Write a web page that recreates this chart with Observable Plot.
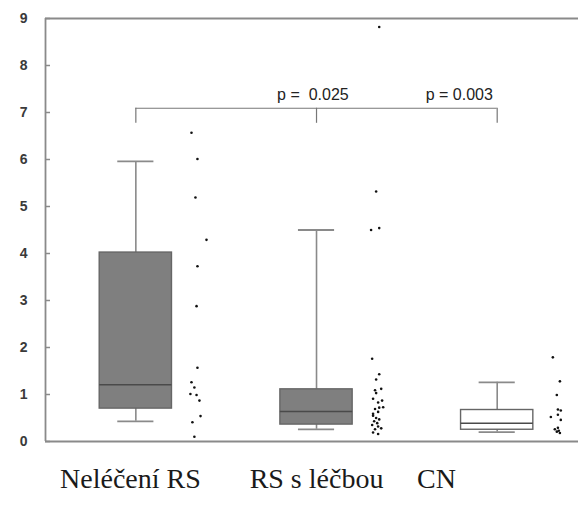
<!DOCTYPE html>
<html><head><meta charset="utf-8">
<script src="https://cdn.jsdelivr.net/npm/d3@7"></script>
<script src="https://cdn.jsdelivr.net/npm/@observablehq/plot@0.6"></script>
<style>body{margin:0;background:#fff}</style>
</head><body><div id="chart"></div>
<script>
// ---- data ----
const groups = ["Neléčení RS", "RS s léčbou", "CN"];
const whiskerLow  = [0.43, 0.26, 0.20];
const quartile1   = [0.70, 0.36, 0.25];
const medians     = [1.21, 0.64, 0.39];
const quartile3   = [4.02, 1.11, 0.67];
const whiskerHigh = [5.96, 4.50, 1.26];

const values1 = [6.57, 6.01, 5.19, 4.29, 3.73, 2.88, 1.57, 1.26, 1.15, 1.01, 0.99, 0.87, 0.54, 0.41, 0.10];
const jitter1 = [-0.022, 0.011, 0, 0.061, 0.011, 0.006, 0.011, -0.022, -0.006, -0.028, 0.006, 0.022, 0.028, -0.017, -0.006];
const values2 = [8.82, 5.32, 4.50, 4.54, 1.76, 1.43, 1.32, 1.12, 1.09, 1.03, 0.91, 0.87, 0.83, 0.73, 0.72, 0.69, 0.63, 0.59, 0.55, 0.50, 0.47, 0.43, 0.39, 0.35, 0.32, 0.28, 0.26, 0.19, 0.16];
const jitter2 = [0.017, 0, -0.028, 0.017, -0.022, 0.017, 0, 0.028, -0.006, 0, -0.017, 0.033, 0.011, 0.039, 0.017, -0.006, 0.011, -0.017, -0.017, 0, 0.017, -0.011, 0.006, -0.022, 0.011, 0.028, -0.006, -0.017, 0.011];
const values3 = [1.79, 1.28, 0.99, 0.68, 0.66, 0.57, 0.52, 0.46, 0.29, 0.26, 0.23, 0.18, 0.21];
const jitter3 = [-0.022, 0.017, 0, 0.006, 0.022, 0.006, -0.033, 0.022, 0.006, -0.011, 0.011, 0.017, 0];

const pLabels = ["p =  0.025", "p = 0.003"];
const bracketLevel = 7.09;
const bracketDrop = 6.77;
const yTicks = [0, 1, 2, 3, 4, 5, 6, 7, 8, 9];

// ---- layout / style ----
const xDomain = [0.5, 3.45];
const yDomain = [0, 9];
const boxHalf = 0.2, capHalf = 0.1, dotOffset = 0.33;
const boxFills = ["#7f7f7f", "#7f7f7f", "#ffffff"];
const labelX = [0.97, 2.0, 2.664];
const pX = [1.98, 2.79];
const lineGray = "#8a8a8a";

const boxes = groups.map((g, i) => ({
  pos: i + 1, lo: whiskerLow[i], q1: quartile1[i], med: medians[i], q3: quartile3[i], hi: whiskerHigh[i], fill: boxFills[i]
}));
const points = [
  ...values1.map((v, j) => ({pos: 1, value: v, jit: jitter1[j]})),
  ...values2.map((v, j) => ({pos: 2, value: v, jit: jitter2[j]})),
  ...values3.map((v, j) => ({pos: 3, value: v, jit: jitter3[j]}))
];
const bracketX = boxes.map(d => d.pos);

const plot = Plot.plot({
  width: 578, height: 505,
  marginLeft: 45, marginRight: 0, marginTop: 18, marginBottom: 64,
  style: {fontFamily: "Liberation Sans, Arial, sans-serif", background: "#fff"},
  x: {domain: xDomain, axis: null},
  y: {domain: yDomain, axis: null},
  marks: [
    // frame
    Plot.ruleY([yDomain[0], yDomain[1]], {stroke: lineGray, strokeWidth: 1.8}),
    Plot.ruleX([xDomain[0]], {stroke: lineGray, strokeWidth: 1.8}),
    // y ticks (inward) and labels
    Plot.axisY({ticks: yTicks, tickSize: 5, dx: 5, tickFormat: () => "", stroke: lineGray, strokeWidth: 1.5}),
    Plot.axisY({ticks: yTicks, tickSize: 0, tickPadding: 18, fontSize: 14, fontWeight: "bold", color: "#3a3a3a"}),
    // whiskers
    Plot.ruleX(boxes, {x: "pos", y1: "q3", y2: "hi", stroke: lineGray, strokeWidth: 1.6}),
    Plot.ruleX(boxes, {x: "pos", y1: "lo", y2: "q1", stroke: lineGray, strokeWidth: 1.6}),
    Plot.ruleY(boxes, {y: "hi", x1: d => d.pos - capHalf, x2: d => d.pos + capHalf, stroke: lineGray, strokeWidth: 1.8}),
    Plot.ruleY(boxes, {y: "lo", x1: d => d.pos - capHalf, x2: d => d.pos + capHalf, stroke: lineGray, strokeWidth: 1.8}),
    // boxes
    Plot.rect(boxes, {x1: d => d.pos - boxHalf, x2: d => d.pos + boxHalf, y1: "q1", y2: "q3", fill: "fill", stroke: "#666", strokeWidth: 1.4}),
    Plot.ruleY(boxes, {y: "med", x1: d => d.pos - boxHalf, x2: d => d.pos + boxHalf, stroke: "#4a4a4a", strokeWidth: 1.5}),
    // raw points
    Plot.dot(points, {x: d => d.pos + dotOffset + d.jit, y: "value", r: 1.3, fill: "#111", stroke: "none"}),
    // significance bracket
    Plot.ruleY([bracketLevel], {x1: bracketX[0], x2: bracketX[2], stroke: "#777", strokeWidth: 1.2}),
    Plot.ruleX(bracketX, {x: d => d, y1: bracketDrop, y2: bracketLevel, stroke: "#777", strokeWidth: 1.2}),
    Plot.text(pLabels, {x: (d, i) => pX[i], y: bracketLevel, text: d => d, dy: -13, fontSize: 16, fill: "#222"}),
    // category labels
    Plot.text(groups, {x: (d, i) => labelX[i], frameAnchor: "bottom", dy: 46, text: d => d, fontFamily: "'Liberation Serif', 'Times New Roman', serif", fontSize: 28, fontWeight: "normal", fill: "#1a1a1a"})
  ]
});
document.getElementById("chart").append(plot);
</script></body></html>
